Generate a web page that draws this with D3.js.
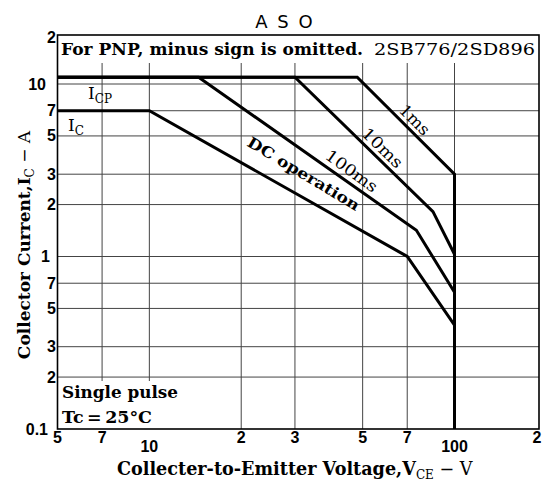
<!DOCTYPE html>
<html>
<head>
<meta charset="utf-8">
<script src="https://cdn.jsdelivr.net/npm/d3@7"></script>
<style>
  body { margin: 0; background: #fff; }
  svg { display: block; }
  .serif { font-family: "DejaVu Serif", "Liberation Serif", serif; }
  .tick { font-family: "Liberation Sans Narrow", "Liberation Sans", Arial, sans-serif; font-weight: bold; }
</style>
</head>
<body>
<svg width="545" height="484"></svg>
<script>
// axis ticks (value + printed label)
var xTickValues = [5, 7, 10, 20, 30, 50, 70, 100, 200];
var xTickLabels = ["5", "7", "10", "2", "3", "5", "7", "100", "2"];
var yTickValues = [0.1, 0.2, 0.3, 0.5, 0.7, 1, 2, 3, 5, 7, 10, 20];
var yTickLabels = ["0.1", "2", "3", "5", "7", "1", "2", "3", "5", "7", "10", "2"];

// safe operating area curves, [V_CE, I_C]
var curve1ms = [[5, 11], [48, 11], [100, 3], [100, 0.1]];
var curve10ms = [[5, 11], [30, 11], [85, 1.82], [100, 1.03]];
var curve100ms = [[5, 11], [14.5, 11], [75, 1.42], [100, 0.62]];
var curveDC = [[5, 7], [10, 7], [70, 1], [100, 0.4]];

// curve labels: text, V, I, angle, bold, length
var curveLabels = [
  ["1ms", 74, 6.2, 45, false, 36],
  ["10ms", 58, 4.26, 44, false, 50],
  ["100ms", 46, 3.13, 36, false, 60],
  ["DC operation", 32, 3.01, 31, true, 128]
];

var svg = d3.select("svg");

// the scanned sheet is a little stretched, so the log scales are polylinear
var x = d3.scaleLog().domain([5, 100, 200]).range([57.5, 454.5, 539]);
var y = d3.scaleLog().domain([0.1, 10, 20]).range([429, 84, 35]);

var g = svg.append("g");

// grid
g.selectAll(".vgrid")
  .data(xTickValues.slice(1, -1))
  .enter().append("line")
  .attr("x1", function (d) { return x(d); })
  .attr("x2", function (d) { return x(d); })
  .attr("y1", y(20)).attr("y2", y(0.1))
  .attr("stroke", "#444").attr("stroke-width", 1);

g.selectAll(".hgrid")
  .data(yTickValues.slice(1, -1))
  .enter().append("line")
  .attr("x1", x(5)).attr("x2", x(200))
  .attr("y1", function (d) { return y(d); })
  .attr("y2", function (d) { return y(d); })
  .attr("stroke", "#444").attr("stroke-width", 1);

// white boxes behind the notes
g.append("rect").attr("x", x(5)).attr("y", y(20))
  .attr("width", x(200) - x(5)).attr("height", 28).attr("fill", "#fff");
g.append("rect").attr("x", x(5)).attr("y", 381)
  .attr("width", 126).attr("height", y(0.1) - 381).attr("fill", "#fff");

// frame
g.append("rect").attr("x", x(5)).attr("y", y(20))
  .attr("width", x(200) - x(5)).attr("height", y(0.1) - y(20))
  .attr("fill", "none").attr("stroke", "#000").attr("stroke-width", 1.6);

// curves
var line = d3.line()
  .x(function (d) { return x(d[0]); })
  .y(function (d) { return y(d[1]); });

[curve1ms, curve10ms, curve100ms, curveDC].forEach(function (c) {
  g.append("path").attr("d", line(c))
    .attr("fill", "none").attr("stroke", "#000")
    .attr("stroke-width", 3).attr("stroke-linejoin", "miter");
});

// curve labels
curveLabels.forEach(function (l) {
  g.append("text").attr("class", "serif")
    .attr("transform", "translate(" + x(l[1]) + "," + y(l[2]) + ") rotate(" + l[3] + ")")
    .attr("text-anchor", "middle").attr("dominant-baseline", "central")
    .attr("font-size", l[4] ? 15 : 16)
    .attr("font-weight", l[4] ? "bold" : "normal")
    .attr("textLength", l[5]).attr("lengthAdjust", "spacingAndGlyphs")
    .text(l[0]);
});

// I_CP and I_C
var icp = g.append("text").attr("class", "serif").attr("x", 88).attr("y", 99).attr("font-size", 17);
icp.append("tspan").text("I");
icp.append("tspan").attr("dy", 4).attr("font-size", 12).text("CP");
var ic = g.append("text").attr("class", "serif").attr("x", 68).attr("y", 131).attr("font-size", 17);
ic.append("tspan").text("I");
ic.append("tspan").attr("dy", 4).attr("font-size", 12).text("C");

// header notes
g.append("text").attr("class", "serif").attr("x", 61).attr("y", 55)
  .attr("font-size", 16).attr("font-weight", "bold")
  .attr("textLength", 302).attr("lengthAdjust", "spacingAndGlyphs")
  .text("For PNP, minus sign is omitted.");
g.append("text").attr("class", "serif").attr("x", 535).attr("y", 55)
  .attr("font-size", 16).attr("text-anchor", "end")
  .attr("textLength", 161).attr("lengthAdjust", "spacingAndGlyphs")
  .text("2SB776/2SD896");

g.append("text").attr("class", "serif").attr("x", 62).attr("y", 398)
  .attr("font-size", 17).attr("font-weight", "bold")
  .attr("textLength", 116).attr("lengthAdjust", "spacingAndGlyphs")
  .text("Single pulse");
g.append("text").attr("class", "serif").attr("x", 62).attr("y", 423)
  .attr("font-size", 17).attr("font-weight", "bold")
  .attr("textLength", 90).attr("lengthAdjust", "spacingAndGlyphs")
  .text("Tc\u2009=\u200925\u00b0C");

// title
svg.append("text").attr("x", 285).attr("y", 28)
  .attr("text-anchor", "middle")
  .attr("font-family", "'DejaVu Sans', sans-serif").attr("font-size", 18)
  .attr("letter-spacing", 2)
  .text("A S O");

// tick labels
xTickValues.forEach(function (v, i) {
  var major = (v === 10 || v === 100);
  svg.append("text").attr("class", "tick")
    .attr("x", x(v) + (i === xTickValues.length - 1 ? -2 : 0))
    .attr("y", major ? 452 : 443)
    .attr("text-anchor", "middle").attr("font-size", 16)
    .text(xTickLabels[i]);
});
yTickValues.forEach(function (v, i) {
  var major = (v === 0.1 || v === 1 || v === 10);
  svg.append("text").attr("class", "tick")
    .attr("x", major ? (v === 10 ? 46 : (v === 1 ? 50 : 48)) : 56)
    .attr("y", y(v) + (i === yTickValues.length - 1 ? 2 : 0))
    .attr("text-anchor", "end").attr("dominant-baseline", "central")
    .attr("font-size", 16)
    .text(yTickLabels[i]);
});

// axis titles
var xt = svg.append("text").attr("class", "serif")
  .attr("x", 117).attr("y", 475).attr("font-size", 17.6).attr("font-weight", "bold");
xt.append("tspan").text("Collecter-to-Emitter Voltage,V");
xt.append("tspan").attr("dy", 4).attr("font-size", 12).attr("font-weight", "normal").text("CE");
xt.append("tspan").attr("dy", -4).attr("font-weight", "normal").text(" \u2212 V");

var yt = svg.append("text").attr("class", "serif")
  .attr("transform", "translate(30,245) rotate(-90)")
  .attr("text-anchor", "middle").attr("font-size", 17).attr("font-weight", "bold");
yt.append("tspan").text("Collector Current,I");
yt.append("tspan").attr("dy", 4).attr("font-size", 12).attr("font-weight", "normal").text("C");
yt.append("tspan").attr("dy", -4).attr("font-weight", "normal").text(" \u2212 A");
</script>
</body>
</html>
